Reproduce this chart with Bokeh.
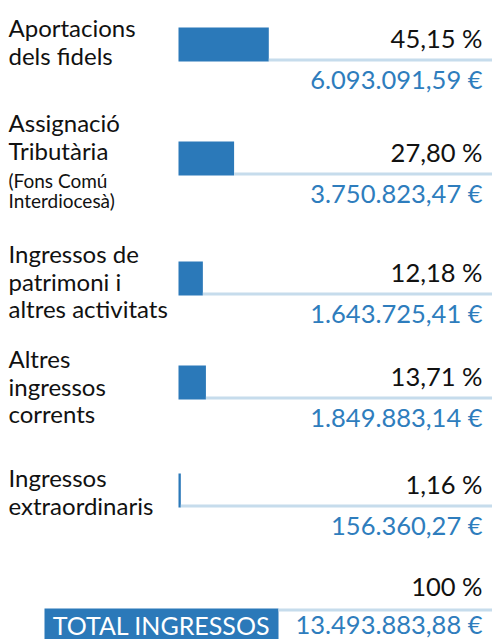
from bokeh.plotting import figure
from bokeh.models import Range1d
from bokeh.embed import file_html
from bokeh.resources import INLINE
from bokeh.core.properties import value

# ---- data ----
label_lines = [
    ["Aportacions", "dels fidels"],
    ["Assignació", "Tributària"],
    ["Ingressos de", "patrimoni i", "altres activitats"],
    ["Altres", "ingressos", "corrents"],
    ["Ingressos", "extraordinaris"],
]
sub_lines = [[], ["(Fons Comú", "Interdiocesà)"], [], [], []]
percent = [45.15, 27.80, 12.18, 13.71, 1.16]
amount = [6093091.59, 3750823.47, 1643725.41, 1849883.14, 156360.27]
total_percent = 100
total_amount = 13493883.88
total_label = "TOTAL INGRESSOS"

# ---- layout ----
W, H = 492, 639
FONT = "Lato"
BLUE = "#2b79b9"
LIGHT = "#c6dcec"
TXT_BLUE = "#2e7dbd"
BLACK = "#111111"
BAR_X = 178
PX_PER_PCT = 2.0
BAR_H = 34
RIGHT_X = 482
row_top = [27, 141, 261, 365, 473]
label_first = [37, 132, 263, 368, 487]
label_step = 27.5
sub_first = [None, 188, None, None, None]
sub_step = 20
LBL = 24
NUM = 25.5
SUB = 19
K = 0.4  # baseline correction (fraction of font size)

def by(y, size):
    return y - K * size

def fmt_amount(v):
    s = f"{v:,.2f}"
    return s.replace(",", "X").replace(".", ",").replace("X", ".") + " €"

def fmt_pct(v):
    if float(v).is_integer():
        return f"{int(v)} %"
    return f"{v:.2f}".replace(".", ",") + " %"

p = figure(width=W, height=H, x_range=Range1d(0, W), y_range=Range1d(H, 0),
           output_backend="svg", toolbar_location=None,
           x_axis_type=None, y_axis_type=None, min_border=0,
           outline_line_color=None, background_fill_color="white",
           border_fill_color="white")
p.grid.visible = False

# bars and baseline lines
rights = [BAR_X + v * PX_PER_PCT for v in percent]
bottoms = [t + BAR_H for t in row_top]
p.quad(left=[BAR_X] * len(percent), right=rights, top=row_top, bottom=bottoms,
       fill_color=BLUE, line_color=None)
p.segment(x0=rights, x1=[W] * len(percent), y0=[b - 1.5 for b in bottoms],
          y1=[b - 1.5 for b in bottoms], line_color=LIGHT, line_width=3)

# percentages & amounts
p.text(x=[RIGHT_X] * len(percent), y=[by(b - 13, NUM) for b in bottoms],
       text=[fmt_pct(v) for v in percent], text_align="right",
       text_baseline="alphabetic", text_color=BLACK,
       text_font=value(FONT), text_font_size=f"{NUM}px")
p.text(x=[RIGHT_X] * len(amount), y=[by(b + 28, NUM) for b in bottoms],
       text=[fmt_amount(v) for v in amount], text_align="right",
       text_baseline="alphabetic", text_color=TXT_BLUE,
       text_font=value(FONT), text_font_size=f"{NUM}px")

# labels
lx, ly, lt = [], [], []
for i, lines in enumerate(label_lines):
    for j, s in enumerate(lines):
        lx.append(8); ly.append(by(label_first[i] + j * label_step, LBL)); lt.append(s)
p.text(x=lx, y=ly, text=lt, text_align="left", text_baseline="alphabetic",
       text_color=BLACK, text_font=value(FONT), text_font_size=f"{LBL}px")
sx, sy, st = [], [], []
for i, lines in enumerate(sub_lines):
    for j, s in enumerate(lines):
        sx.append(8); sy.append(by(sub_first[i] + j * sub_step, SUB)); st.append(s)
if st:
    p.text(x=sx, y=sy, text=st, text_align="left", text_baseline="alphabetic",
           text_color=BLACK, text_font=value(FONT), text_font_size=f"{SUB}px")

# total row
BOX_L, BOX_R, BOX_T = 44, 278, 608
p.quad(left=[BOX_L], right=[BOX_R], top=[BOX_T], bottom=[H + 5],
       fill_color=BLUE, line_color=None)
p.segment(x0=[BOX_R], x1=[W], y0=[BOX_T + 1.5], y1=[BOX_T + 1.5],
          line_color=LIGHT, line_width=3)
p.text(x=[RIGHT_X], y=[by(596, NUM)], text=[fmt_pct(total_percent)], text_align="right",
       text_baseline="alphabetic", text_color=BLACK,
       text_font=value(FONT), text_font_size=f"{NUM}px")
p.text(x=[(BOX_L + BOX_R) / 2], y=[by(634, 25)], text=[total_label], text_align="center",
       text_baseline="alphabetic", text_color="white",
       text_font=value(FONT), text_font_size="25px")
p.text(x=[RIGHT_X], y=[by(634, NUM)], text=[fmt_amount(total_amount)], text_align="right",
       text_baseline="alphabetic", text_color=TXT_BLUE,
       text_font=value(FONT), text_font_size=f"{NUM}px")

open("out.html", "w").write(file_html(p, INLINE))
